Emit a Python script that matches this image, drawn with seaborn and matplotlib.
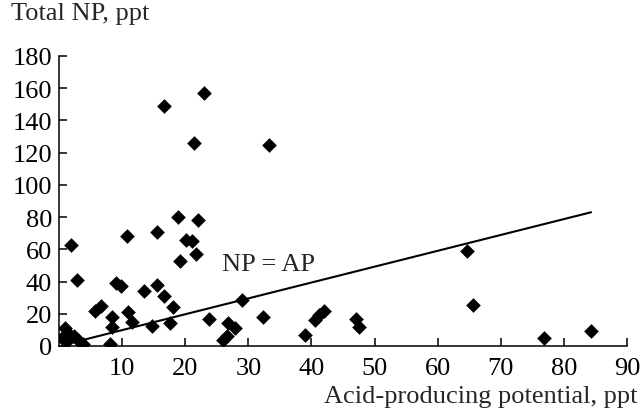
import matplotlib
matplotlib.use("Agg")
import matplotlib.pyplot as plt
import seaborn as sns
import pandas as pd

# Acid-producing potential (AP, ppt) and total neutralization potential (NP, ppt)
ap = [16.7, 23.0, 21.4, 33.2, 10.7, 15.5, 18.9, 22.0, 20.2, 21.0, 21.7, 19.2,
      1.9, 2.9, 9.0, 9.8, 13.5, 15.6, 16.7, 18.1, 5.7, 6.6, 8.4, 8.4, 11.0,
      11.6, 14.8, 17.6, 23.8, 26.8, 27.9, 26.0, 26.6, 29.0, 32.4, 8.1,
      0.5, 1.0, 1.5, 2.3, 3.0, 3.8, 1.2,
      39.0, 40.5, 41.2, 42.0, 47.1, 47.5, 64.6, 65.6, 76.8, 84.3]
total_np = [149, 157, 126, 125, 68, 71, 80, 78, 66, 65, 57, 53,
            63, 41, 39, 37, 34, 38, 31, 24, 22, 25, 18, 12, 21,
            15, 12.5, 14, 17, 14, 11, 4, 6, 28.5, 18, 1,
            5, 11, 8, 6, 4, 1.5, 3,
            7, 16, 19, 22, 17, 12, 59, 25.5, 5, 9.5]

# NP = AP reference line
line_x = [1, 84.3]
line_y = [1, 83]

x_ticks = [10, 20, 30, 40, 50, 60, 70, 80, 90]
y_ticks = [0, 20, 40, 60, 80, 100, 120, 140, 160, 180]

df = pd.DataFrame({"AP": ap, "NP": total_np})
df_line = pd.DataFrame({"x": line_x, "y": line_y})

sns.set_style("ticks")
plt.rcParams["font.family"] = ["Liberation Serif", "DejaVu Serif"]

fig = plt.figure(figsize=(6.44, 4.14), dpi=100)
ax = fig.add_axes([59 / 644, 1 - 347 / 414, (627 - 59) / 644, (347 - 57) / 414])

sns.lineplot(data=df_line, x="x", y="y", ax=ax, color="black", linewidth=1.5)
sns.scatterplot(data=df, x="AP", y="NP", ax=ax, marker="D", color="black",
                s=56, linewidth=0, zorder=3)

ax.set_xlim(0, 90)
ax.set_ylim(0, 180)
ax.set_xticks(x_ticks)
ax.set_yticks(y_ticks)
ax.set_xlabel("")
ax.set_ylabel("")
ax.tick_params(direction="in", length=6, width=1.1, labelsize=19, colors="black")
ax.tick_params(axis="x", pad=8)
ax.tick_params(axis="y", pad=5)
for sp in ["top", "right"]:
    ax.spines[sp].set_visible(False)
for sp in ["left", "bottom"]:
    ax.spines[sp].set_linewidth(1.1)
    ax.spines[sp].set_color("black")
ax.patch.set_alpha(0)

ax.text(25.9, 50.8, "NP = AP", fontsize=19, va="center", ha="left")
fig.text(11 / 644, 1 - 14 / 414, "Total NP, ppt", fontsize=19, va="center", ha="left")
fig.text(637 / 644, 1 - 397 / 414, "Acid-producing potential, ppt", fontsize=19,
         va="center", ha="right")

fig.savefig("out.png", dpi=100)
